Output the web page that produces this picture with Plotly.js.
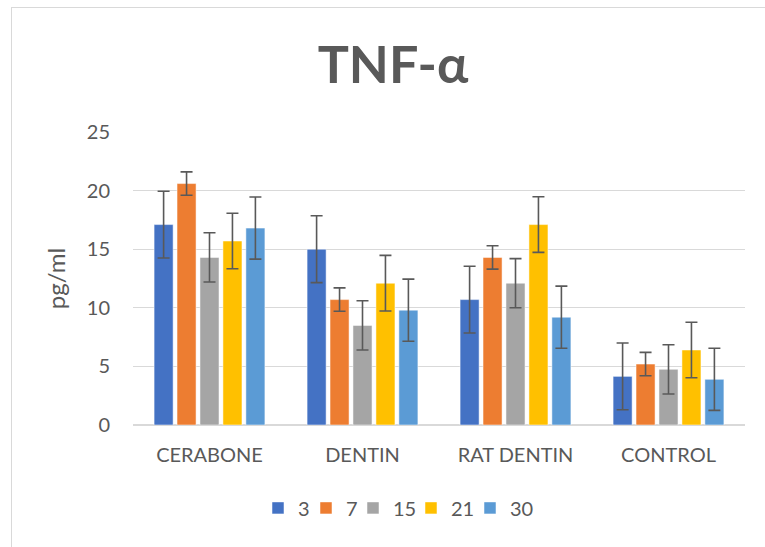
<!DOCTYPE html>
<html>
<head>
<meta charset="utf-8">
<script src="https://cdn.plot.ly/plotly-3.0.1.min.js"></script>
<style>
  html, body { margin: 0; padding: 0; background: #fff; }
  #wrap { position: relative; width: 765px; height: 547px; overflow: hidden; }
  #chart { position: absolute; left: 0; top: 0; width: 765px; height: 547px; }
  #frame { position: absolute; left: 11px; top: 7px; width: 800px; height: 600px;
           border-left: 1px solid #d9d9d9; border-top: 1px solid #d9d9d9; pointer-events: none; }
</style>
</head>
<body>
<div id="wrap">
  <div id="chart"></div>
  <div id="frame"></div>
</div>
<script>
const categories = ["CERABONE", "DENTIN", "RAT DENTIN", "CONTROL"];
const seriesNames = ["3", "7", "15", "21", "30"];
const colors = ["#4472C4", "#ED7D31", "#A5A5A5", "#FFC000", "#5B9BD5"];

const values3  = [17.1, 15.0, 10.7, 4.15];
const values7  = [20.6, 10.7, 14.3, 5.2];
const values15 = [14.3, 8.5, 12.1, 4.75];
const values21 = [15.7, 12.1, 17.1, 6.4];
const values30 = [16.8, 9.8, 9.2, 3.9];

const err3  = [2.85, 2.85, 2.85, 2.85];
const err7  = [1.0, 1.0, 1.0, 1.0];
const err15 = [2.1, 2.1, 2.1, 2.1];
const err21 = [2.37, 2.37, 2.37, 2.37];
const err30 = [2.65, 2.65, 2.65, 2.65];

const yTicks = [0, 5, 10, 15, 20, 25];

const allValues = [values3, values7, values15, values21, values30];
const allErrors = [err3, err7, err15, err21, err30];
const legendWidths = [3, 2, 13, 14, 26];

const font = "Lato, 'Open Sans', sans-serif";
const textColor = "#595959";

const traces = seriesNames.map((name, i) => ({
  type: "bar",
  name: name,
  x: categories,
  y: allValues[i],
  legendwidth: legendWidths[i],
  marker: { color: colors[i], line: { color: "rgba(255,255,255,0.5)", width: 1 } },
  error_y: { type: "data", array: allErrors[i], visible: true, color: "#595959", thickness: 1.6, width: 6 }
}));

const layout = {
  width: 765,
  height: 547,
  paper_bgcolor: "#ffffff",
  plot_bgcolor: "#ffffff",
  margin: { l: 133, r: 20, t: 132, b: 122 },
  barmode: "group",
  bargap: 0.25,
  bargroupgap: 0.17,
  font: { family: font, color: textColor, size: 20 },
  title: {
    text: "<b>TNF-α</b>",
    font: { family: font, size: 52, color: textColor },
    x: 393 / 765, xref: "container", xanchor: "center",
    y: 1 - 65 / 547, yref: "container", yanchor: "middle"
  },
  xaxis: {
    type: "category",
    showgrid: false,
    zeroline: false,
    showline: false,
    ticks: "",
    ticklabelstandoff: 16,
    tickfont: { family: font, size: 20, color: textColor }
  },
  yaxis: {
    range: [0, 25],
    tickvals: yTicks,
    ticktext: yTicks.map(String),
    showgrid: true,
    gridcolor: "#d9d9d9",
    gridwidth: 1.3,
    zeroline: true,
    zerolinecolor: "#d9d9d9",
    zerolinewidth: 1.3,
    showline: false,
    ticks: "",
    ticklabelstandoff: 22,
    tickfont: { family: font, size: 20, color: textColor },
    title: { text: "pg/ml", font: { family: font, size: 24, color: textColor }, standoff: 14 }
  },
  legend: {
    orientation: "h",
    xref: "paper",
    x: (258 - 133) / 612, xanchor: "left",
    y: -0.283, yanchor: "middle",
    font: { family: font, size: 20, color: textColor },
    itemwidth: 30,
    entrywidthmode: "pixels",
    traceorder: "normal"
  },
  showlegend: true
};

Plotly.newPlot("chart", traces, layout, { displayModeBar: false, staticPlot: true });
</script>
</body>
</html>
